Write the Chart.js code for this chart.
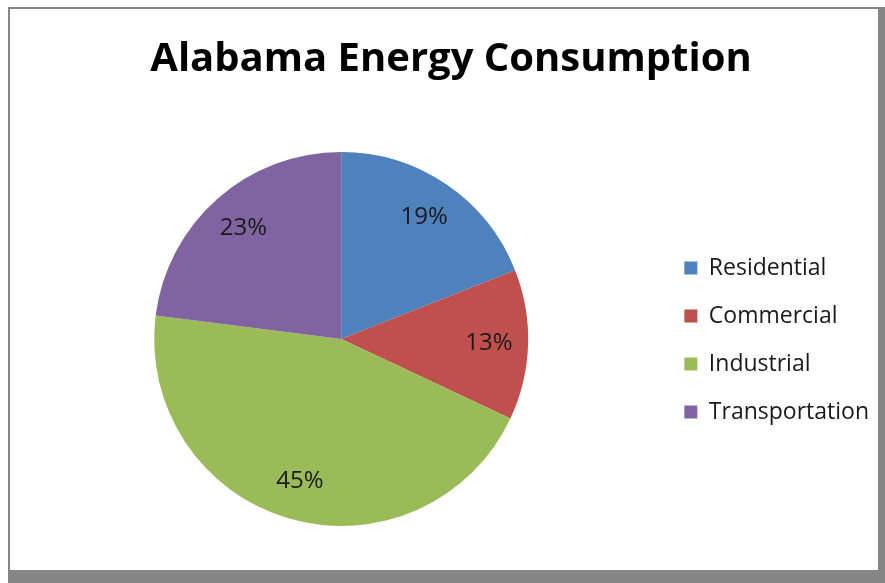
<!DOCTYPE html>
<html>
<head>
<meta charset="utf-8">
<script src="https://cdn.jsdelivr.net/npm/chart.js@4.4.1/dist/chart.umd.min.js"></script>
<style>
  html, body { margin: 0; padding: 0; background: #ffffff; }
  #wrap { position: relative; width: 885px; height: 583px; }
  canvas { display: block; }
</style>
</head>
<body>
<div id="wrap"><canvas id="c" width="885" height="583"></canvas></div>
<script>
const titleText = "Alabama Energy Consumption";
const categories = ["Residential", "Commercial", "Industrial", "Transportation"];
const shares = [19, 13, 45, 23];
const sliceColors = ["#4F81BD", "#C0504D", "#9BBB59", "#8064A2"];

const framePlugin = {
  id: 'frame',
  beforeDraw(chart) {
    const ctx = chart.ctx;
    ctx.save();
    ctx.fillStyle = '#ffffff';
    ctx.fillRect(0, 0, 885, 583);
    ctx.fillStyle = '#858585';
    ctx.fillRect(8, 7, 877, 576);
    ctx.fillStyle = '#ffffff';
    ctx.fillRect(10, 9, 868, 561);
    ctx.restore();
  }
};

const labelPlugin = {
  id: 'pctLabels',
  afterDatasetsDraw(chart) {
    const ctx = chart.ctx;
    const meta = chart.getDatasetMeta(0);
    const total = shares.reduce((a, b) => a + b, 0);
    ctx.save();
    ctx.font = '24px "Open Sans", sans-serif';
    ctx.fillStyle = '#1a1a1a';
    ctx.textAlign = 'center';
    ctx.textBaseline = 'middle';
    meta.data.forEach((arc, i) => {
      const p = arc.getProps(['x', 'y', 'startAngle', 'endAngle', 'outerRadius'], true);
      const mid = (p.startAngle + p.endAngle) / 2;
      const r = p.outerRadius * 0.79;
      const x = p.x + Math.cos(mid) * r;
      const y = p.y + Math.sin(mid) * r;
      ctx.fillText(Math.round(shares[i] / total * 100) + '%', x, y);
    });
    ctx.restore();
  }
};

new Chart(document.getElementById('c'), {
  type: 'pie',
  data: {
    labels: categories,
    datasets: [{
      data: shares,
      backgroundColor: sliceColors,
      borderWidth: 0
    }]
  },
  options: {
    responsive: false,
    animation: false,
    layout: { padding: { left: 23, right: 6, top: 10, bottom: 57 } },
    plugins: {
      title: {
        display: true,
        text: titleText,
        color: '#000000',
        font: { family: '"Open Sans", sans-serif', size: 40, weight: 'bold', lineHeight: 1.2 },
        padding: { top: 26, bottom: 68 }
      },
      legend: {
        position: 'right',
        maxWidth: 220,
        title: {
          display: true,
          text: ' ',
          font: { size: 10, lineHeight: 1 },
          padding: { top: 134, bottom: 0 }
        },
        labels: {
          boxWidth: 13,
          boxHeight: 13,
          padding: 25,
          color: '#1a1a1a',
          font: { family: '"Open Sans", sans-serif', size: 23 }
        }
      },
      tooltip: { enabled: false }
    }
  },
  plugins: [framePlugin, labelPlugin]
});
</script>
</body>
</html>
